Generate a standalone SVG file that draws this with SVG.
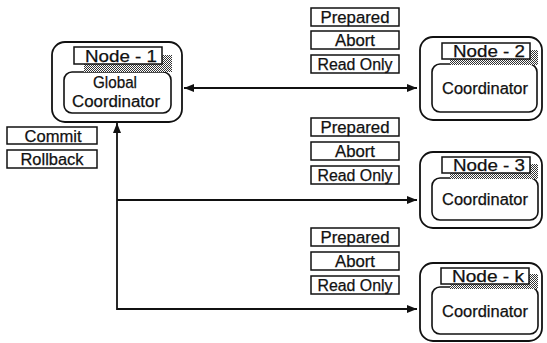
<svg xmlns="http://www.w3.org/2000/svg" width="547" height="343" viewBox="0 0 547 343">
<defs>
<pattern id="stip" width="2" height="2" patternUnits="userSpaceOnUse">
<rect width="2" height="2" fill="#fff"/>
<rect width="1" height="1" fill="#333"/>
<rect x="1" y="1" width="1" height="1" fill="#333"/>
</pattern>
<marker id="ah" viewBox="0 0 10 8" refX="10" refY="4" markerWidth="10" markerHeight="8" markerUnits="userSpaceOnUse" orient="auto-start-reverse">
<path d="M0,0 L10,4 L0,8 Z" fill="#111"/>
</marker>
<style>
.outer{fill:#fff;stroke:#111;stroke-width:1.8}
.inner{fill:#fff;stroke:#111;stroke-width:1.6}
.lbl{fill:#fff;stroke:#111;stroke-width:1.5}
.shd{fill:url(#stip);stroke:none}
.t{font-family:"Liberation Sans",Arial,sans-serif;font-size:16px;fill:#111;stroke:#111;stroke-width:0.25;text-anchor:middle}
.ln{fill:none;stroke:#111;stroke-width:1.8}
</style>
</defs>
<rect width="547" height="343" fill="#fff"/>

<g id="connectors">
<line class="ln" x1="184" y1="88" x2="417" y2="88" marker-start="url(#ah)" marker-end="url(#ah)"/>
<polyline class="ln" points="417,309 117,309 117,123" marker-start="url(#ah)" marker-end="url(#ah)"/>
<line class="ln" x1="117" y1="200" x2="417" y2="200" marker-end="url(#ah)"/>
</g>

<g id="node-1">
<rect class="outer" x="52" y="42" width="130" height="80" rx="13"/>
<rect class="inner" x="64" y="72" width="107" height="41" rx="8"/>
<rect class="shd" x="84" y="55" width="88" height="17"/>
<rect class="lbl" x="74" y="47" width="88" height="17"/>
<text class="t" x="121" y="61.5" textLength="72" lengthAdjust="spacingAndGlyphs">Node - 1</text>
<text class="t" x="115" y="88" textLength="44" lengthAdjust="spacingAndGlyphs">Global</text>
<text class="t" x="116" y="107" textLength="88" lengthAdjust="spacingAndGlyphs">Coordinator</text>
</g>

<g id="decision">
<rect class="lbl" x="7" y="127" width="90" height="17"/>
<text class="t" x="53" y="141.5" textLength="57" lengthAdjust="spacingAndGlyphs">Commit</text>
<rect class="lbl" x="7" y="150" width="90" height="18"/>
<text class="t" x="52" y="165" textLength="63" lengthAdjust="spacingAndGlyphs">Rollback</text>
</g>

<g id="votes-2">
<rect class="lbl" x="311" y="8" width="88" height="18"/>
<text class="t" x="355" y="22.5" textLength="69" lengthAdjust="spacingAndGlyphs">Prepared</text>
<rect class="lbl" x="311" y="31" width="88" height="18"/>
<text class="t" x="355" y="45.5" textLength="40" lengthAdjust="spacingAndGlyphs">Abort</text>
<rect class="lbl" x="311" y="55" width="88" height="18"/>
<text class="t" x="355" y="69.5" textLength="75" lengthAdjust="spacingAndGlyphs">Read Only</text>
</g>

<g id="votes-3">
<rect class="lbl" x="311" y="118" width="88" height="18"/>
<text class="t" x="355" y="132.5" textLength="69" lengthAdjust="spacingAndGlyphs">Prepared</text>
<rect class="lbl" x="311" y="142" width="88" height="18"/>
<text class="t" x="355" y="156.5" textLength="40" lengthAdjust="spacingAndGlyphs">Abort</text>
<rect class="lbl" x="311" y="166" width="88" height="18"/>
<text class="t" x="355" y="180.5" textLength="75" lengthAdjust="spacingAndGlyphs">Read Only</text>
</g>

<g id="votes-k">
<rect class="lbl" x="311" y="228" width="88" height="18"/>
<text class="t" x="355" y="242.5" textLength="69" lengthAdjust="spacingAndGlyphs">Prepared</text>
<rect class="lbl" x="311" y="252" width="88" height="18"/>
<text class="t" x="355" y="266.5" textLength="40" lengthAdjust="spacingAndGlyphs">Abort</text>
<rect class="lbl" x="311" y="276" width="88" height="18"/>
<text class="t" x="355" y="290.5" textLength="75" lengthAdjust="spacingAndGlyphs">Read Only</text>
</g>

<g id="node-2">
<rect class="outer" x="420" y="37" width="122" height="83" rx="13"/>
<rect class="inner" x="432" y="64" width="105" height="48" rx="8"/>
<rect class="shd" x="450" y="50" width="88" height="15"/>
<rect class="lbl" x="442" y="43" width="88" height="16"/>
<text class="t" x="489" y="57" textLength="72" lengthAdjust="spacingAndGlyphs">Node - 2</text>
<text class="t" x="485" y="94" textLength="86" lengthAdjust="spacingAndGlyphs">Coordinator</text>
</g>

<g id="node-3">
<rect class="outer" x="420" y="152" width="122" height="76" rx="13"/>
<rect class="inner" x="432" y="178" width="106" height="42" rx="8"/>
<rect class="shd" x="450" y="164" width="88" height="15"/>
<rect class="lbl" x="442" y="157" width="88" height="16"/>
<text class="t" x="489" y="171" textLength="72" lengthAdjust="spacingAndGlyphs">Node - 3</text>
<text class="t" x="485" y="205" textLength="86" lengthAdjust="spacingAndGlyphs">Coordinator</text>
</g>

<g id="node-k">
<rect class="outer" x="420" y="263" width="122" height="78" rx="13"/>
<rect class="inner" x="432" y="287" width="106" height="47" rx="8"/>
<rect class="shd" x="450" y="274" width="88" height="15"/>
<rect class="lbl" x="441" y="268" width="88" height="16"/>
<text class="t" x="488" y="282" textLength="72" lengthAdjust="spacingAndGlyphs">Node - k</text>
<text class="t" x="485" y="317" textLength="86" lengthAdjust="spacingAndGlyphs">Coordinator</text>
</g>
</svg>
